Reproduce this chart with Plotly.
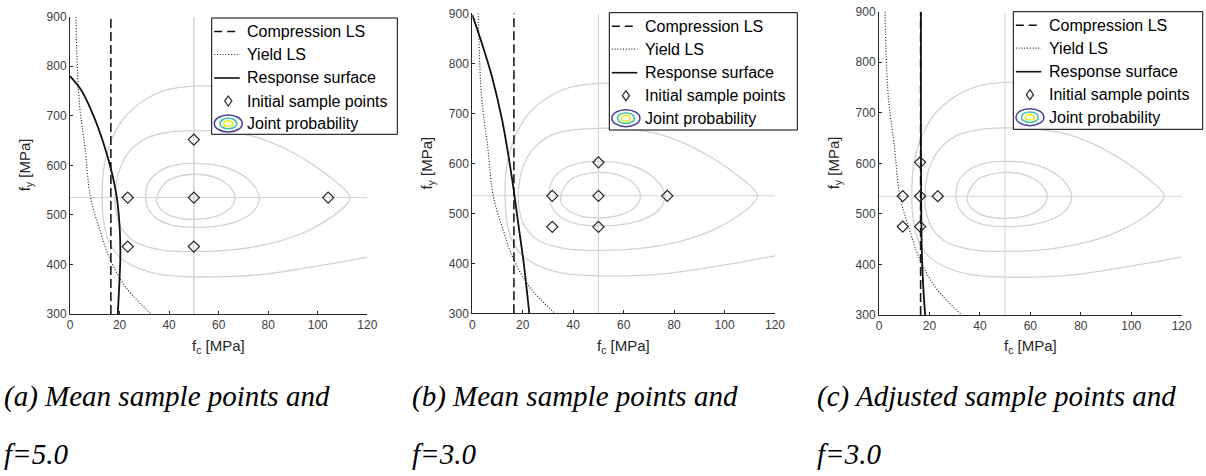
import plotly.graph_objects as go

W, H = 1206, 476

# ---------------- data ----------------
x_ticks = [0, 20, 40, 60, 80, 100, 120]
y_ticks = [300, 400, 500, 600, 700, 800, 900]

mean_fc = 50
mean_fy = 535
compression_fc = 16.5

# Yield limit state (same in all panels)
yield_fc = [2.4, 2.8, 3.8, 6.1, 8.3, 12.0, 16.2, 22.8, 32.8]
yield_fy = [900, 820, 725, 633, 535, 470, 410, 352, 300]

# Response surfaces
rs_a_fc = [0, 4.5, 9.5, 13.5, 16.9, 18.9, 20.1, 20.3, 19.8, 19.3]
rs_a_fy = [780, 752, 700, 645, 585, 535, 470, 410, 350, 300]
rs_b_fc = [0, 3.8, 7.8, 11.8, 14.4, 16.4, 18.4, 20.4, 22.6]
rs_b_fy = [897, 840, 773, 687, 613, 547, 473, 400, 300]
rs_c_fc = [16.6, 16.6, 16.7, 16.9, 17.3, 17.8, 18.3]
rs_c_fy = [900, 700, 540, 440, 380, 335, 300]

# Initial sample points
pts_a_fc = [23.3, 50, 104.2, 50, 50, 23.3]
pts_a_fy = [535, 535, 535, 652, 436, 436]
pts_b_fc = [31.7, 50, 77.3, 50, 50, 31.7]
pts_b_fy = [535, 535, 535, 602, 473, 473]
pts_c_fc = [9.4, 16.3, 23.3, 16.3, 16.3, 9.4]
pts_c_fy = [535, 535, 535, 602, 475, 475]

# Joint probability iso-lines (same in all panels)
c1_fc = [35.0, 38.7, 44.0, 50.2, 57.2, 62.5, 65.8, 66.7, 65.8, 62.5, 57.2, 50.2, 42.7, 38.1, 35.4, 35.0]
c1_fy = [535, 566, 578, 582, 578, 566, 549, 535, 520, 505, 495, 491, 495, 505, 520, 535]
c2_fc = [30.5, 32.1, 37.4, 44.0, 50.2, 58.6, 66.5, 73.1, 76.4, 73.8, 67.8, 59.9, 50.2, 41.4, 34.8, 31.5, 30.5]
c2_fy = [535, 569, 592, 602, 604, 601, 589, 566, 535, 506, 488, 478, 475, 479, 493, 513, 535]
c3_fc = [18.2, 19.6, 23.5, 30.8, 40.1, 50.2, 62.5, 74.4, 86.3, 96.9, 106.1, 111.4, 113.1, 111.4,
         104.8, 95.6, 82.3, 66.5, 50.2, 37.4, 26.8, 20.9, 18.6, 18.2]
c3_fy = [535, 585, 625, 655, 667, 670, 668, 658, 635, 605, 572, 549, 535, 520,
         493, 467, 444, 430, 426, 429, 444, 473, 506, 535]
c4_fc = [120, 110, 100, 90, 80, 69.1, 59.9, 50.2, 38.7, 29.5, 21.5, 16.3, 13.6, 13.0, 13.6,
         15.6, 20.2, 26.8, 36.1, 50.2, 66.5, 79.7, 92.9, 106.1, 120]
c4_fy = [697, 708, 720, 733, 745, 755, 759, 760, 752, 730, 694, 645, 592, 535, 487,
         447, 414, 394, 380, 375, 376, 381, 391, 402, 415]

legend_labels = ["Compression LS", "Yield LS", "Response surface",
                 "Initial sample points", "Joint probability"]
captions_1 = ["(a) Mean sample points and", "(b) Mean sample points and",
              "(c) Adjusted sample points and"]
captions_2 = ["f=5.0", "f=3.0", "f=3.0"]

# ---------------- layout geometry (pixels) ----------------
plot_boxes = [  # left, top, right, bottom
    (70.0, 16.7, 367.3, 314.0),
    (472.3, 13.3, 775.0, 313.3),
    (879.0, 11.7, 1181.7, 315.0),
]
legend_boxes = [
    (211.7, 18.0, 397.3, 134.3),
    (609.3, 12.7, 797.3, 130.0),
    (1013.3, 11.7, 1202.7, 129.3),
]
caption_x = [2, 410, 815]
row_off = [13.5, 36.5, 60.0, 83.0, 105.5]


def px(x):
    return x / W


def py(y):
    return 1 - y / H


panels = [
    (rs_a_fc, rs_a_fy, pts_a_fc, pts_a_fy),
    (rs_b_fc, rs_b_fy, pts_b_fc, pts_b_fy),
    (rs_c_fc, rs_c_fy, pts_c_fc, pts_c_fy),
]

GRAY = "#d2d2d2"
DARK = "#262626"

fig = go.Figure()
shapes = []
annotations = []

for i, (rsx, rsy, ptx, pty) in enumerate(panels):
    sfx = "" if i == 0 else str(i + 1)
    xa, ya = "x" + sfx, "y" + sfx
    common = dict(xaxis=xa, yaxis=ya, showlegend=False, hoverinfo="skip")

    # contours
    for cx, cy in [(c1_fc, c1_fy), (c2_fc, c2_fy), (c3_fc, c3_fy), (c4_fc, c4_fy)]:
        fig.add_trace(go.Scatter(x=cx, y=cy, mode="lines",
                                 line=dict(color=GRAY, width=1.3, shape="spline", smoothing=1.0),
                                 **common))
    # mean cross-hair
    fig.add_trace(go.Scatter(x=[mean_fc, mean_fc], y=[y_ticks[0], y_ticks[-1]], mode="lines",
                             line=dict(color=GRAY, width=1.4 if i == 0 else 1.0), **common))
    fig.add_trace(go.Scatter(x=[x_ticks[0], x_ticks[-1]], y=[mean_fy, mean_fy], mode="lines",
                             line=dict(color=GRAY, width=1.0), **common))
    # yield LS
    fig.add_trace(go.Scatter(x=yield_fc, y=yield_fy, mode="lines",
                             line=dict(color="#2a2a2a", width=1.2, dash="1px,1.8px",
                                       shape="spline", smoothing=1.0), **common))
    # compression LS
    fig.add_trace(go.Scatter(x=[compression_fc, compression_fc], y=[y_ticks[0], y_ticks[-1]],
                             mode="lines", line=dict(color="#1a1a1a", width=1.6, dash="9px,4px"),
                             **common))
    # response surface
    fig.add_trace(go.Scatter(x=rsx, y=rsy, mode="lines",
                             line=dict(color="#111111", width=1.8, shape="spline", smoothing=0.8),
                             **common))
    # sample points
    fig.add_trace(go.Scatter(x=ptx, y=pty, mode="markers",
                             marker=dict(symbol="diamond-open", size=8.5, color=DARK,
                                         line=dict(color=DARK, width=1.2)), **common))

    L, T, R, B = plot_boxes[i]
    axis_common = dict(showgrid=False, zeroline=False, showline=True, linecolor=DARK,
                       linewidth=1, ticks="inside", ticklen=3, tickcolor=DARK,
                       automargin=False,
                       tickfont=dict(family="Liberation Sans, Arial", size=12, color="#404040"),
                       fixedrange=True)
    fig.update_layout(**{
        "xaxis" + sfx: dict(domain=[px(L), px(R)], range=[x_ticks[0], x_ticks[-1]],
                            tickvals=x_ticks, anchor=ya, **axis_common),
        "yaxis" + sfx: dict(domain=[py(B), py(T)], range=[y_ticks[0], y_ticks[-1]],
                            tickvals=y_ticks, anchor=xa, **axis_common),
    })

    # axis titles
    annotations.append(dict(x=px((L + R) / 2), y=py(335), xref="paper", yref="paper",
                            text="f<sub>c</sub> [MPa]", showarrow=False, xanchor="center",
                            yanchor="top",
                            font=dict(family="Liberation Sans, Arial", size=15, color="#262626")))
    annotations.append(dict(x=px(L - 45), y=py((T + B) / 2), xref="paper", yref="paper",
                            text="f<sub>y</sub> [MPa]", showarrow=False, textangle=-90,
                            xanchor="center", yanchor="middle",
                            font=dict(family="Liberation Sans, Arial", size=15, color="#262626")))

    # legend (drawn manually)
    lL, lT, lR, lB = legend_boxes[i]
    shapes.append(dict(type="rect", xref="paper", yref="paper", x0=px(lL), x1=px(lR),
                       y0=py(lB), y1=py(lT), line=dict(color="#000000", width=1),
                       fillcolor="white", layer="above"))
    ys = [lT + r for r in row_off]
    shapes.append(dict(type="line", xref="paper", yref="paper", x0=px(lL + 2.5), x1=px(lL + 28),
                       y0=py(ys[0]), y1=py(ys[0]),
                       line=dict(color="#111111", width=1.5, dash="8px,5px"), layer="above"))
    shapes.append(dict(type="line", xref="paper", yref="paper", x0=px(lL + 2.5), x1=px(lL + 28),
                       y0=py(ys[1]), y1=py(ys[1]),
                       line=dict(color="#2a2a2a", width=1.2, dash="1px,1.8px"), layer="above"))
    shapes.append(dict(type="line", xref="paper", yref="paper", x0=px(lL + 2.5), x1=px(lL + 28),
                       y0=py(ys[2]), y1=py(ys[2]),
                       line=dict(color="#111111", width=1.6), layer="above"))
    cx, cy = lL + 16.6, ys[3]
    path = "M {},{} L {},{} L {},{} L {},{} Z".format(
        px(cx), py(cy - 5), px(cx + 3.6), py(cy), px(cx), py(cy + 5), px(cx - 3.6), py(cy))
    shapes.append(dict(type="path", xref="paper", yref="paper", path=path,
                       line=dict(color=DARK, width=1.2), layer="above"))
    cx, cy = lL + 16.6, ys[4]
    for hw, hh, col in [(14, 8.5, "#4a3d9a"), (8.5, 5.3, "#3dbfae"), (4.5, 2.8, "#eded12")]:
        shapes.append(dict(type="circle", xref="paper", yref="paper",
                           x0=px(cx - hw), x1=px(cx + hw), y0=py(cy + hh), y1=py(cy - hh),
                           line=dict(color=col, width=1.5), layer="above"))
    for lab, yy in zip(legend_labels, ys):
        annotations.append(dict(x=px(lL + 33.5), y=py(yy), xref="paper", yref="paper",
                                text=lab, showarrow=False, xanchor="left", yanchor="middle",
                                font=dict(family="Liberation Sans, Arial", size=16,
                                          color="#000000")))

    # captions
    cap_font = dict(family="Liberation Serif, Times New Roman", size=29, color="#000000",
                    style="italic")
    annotations.append(dict(x=px(caption_x[i]), y=py(396), xref="paper", yref="paper",
                            text=captions_1[i], showarrow=False,
                            xanchor="left", yanchor="middle", font=cap_font))
    annotations.append(dict(x=px(caption_x[i]), y=py(454), xref="paper", yref="paper",
                            text=captions_2[i], showarrow=False,
                            xanchor="left", yanchor="middle", font=cap_font))

fig.update_layout(width=W, height=H, margin=dict(l=0, r=0, t=0, b=0, pad=0),
                  paper_bgcolor="white", plot_bgcolor="white",
                  shapes=shapes, annotations=annotations, showlegend=False)

fig.write_html("out.html", config={"displayModeBar": False, "staticPlot": True},
               post_script="document.body.style.margin='0';document.body.style.overflow='hidden';")
